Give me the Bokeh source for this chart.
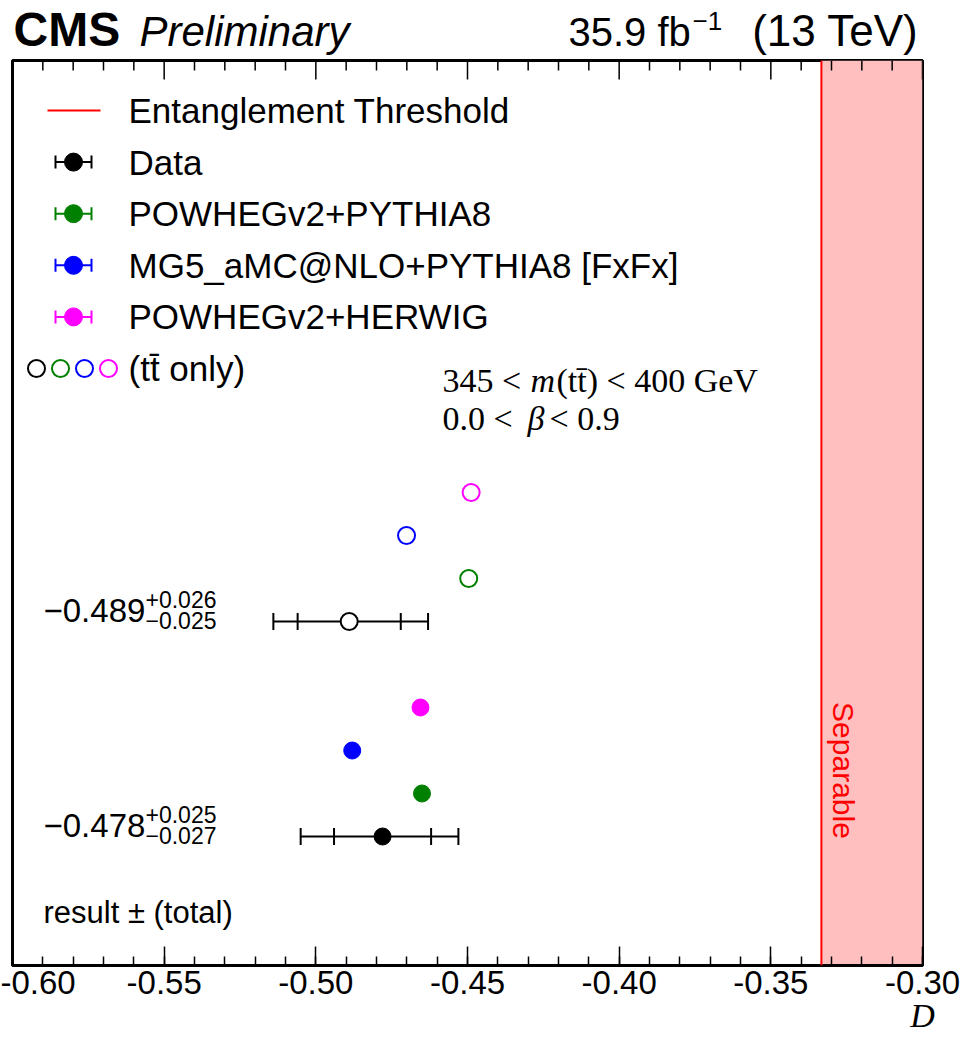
import numpy as np
from bokeh.plotting import figure
from bokeh.layouts import column
from bokeh.models import (Range1d, SingleIntervalTicker, NumeralTickFormatter,
                          Label, BoxAnnotation, Span)
from bokeh.embed import file_html
from bokeh.resources import INLINE

# ---------------- data ----------------
samples = ["Data", "POWHEGv2+PYTHIA8", "MG5_aMC@NLO+PYTHIA8 [FxFx]", "POWHEGv2+HERWIG"]
colors = ["black", "#008000", "#0000ff", "#ff00ff"]
# inclusive (filled markers)
D_incl = [-0.478, -0.465, -0.488, -0.4655]
# tt-bar only (open markers)
D_tt = [-0.489, -0.4496, -0.4701, -0.4488]
# data uncertainties: [inclusive, tt only]
tot_up = [0.025, 0.026]
tot_dn = [0.027, 0.025]
stat_up = [0.016, 0.017]
stat_dn = [0.016, 0.017]
threshold = -1.0 / 3.0
x_lo, x_hi = -0.60, -0.30
x_ticks_interval = 0.05
n_minor = 5

SANS = "Liberation Sans"
SERIF = "Liberation Serif"

W, H = 978, 1045
FL, FR, FT, FB = 12, 922, 60, 965   # frame box in canvas pixels
TOP_PANEL = 3
HEAD_H = FT - TOP_PANEL
row_h = 43.0


def blank_fig(h, y0):
    f = figure(width=W, height=h, x_range=Range1d(FL, FR), y_range=Range1d(y0 + h, y0),
               output_backend="svg", toolbar_location=None, x_axis_location=None,
               y_axis_location=None, min_border_left=FL, min_border_right=W - FR,
               min_border_top=0, min_border_bottom=0)
    f.outline_line_color = None
    f.grid.visible = False
    f.background_fill_color = None
    f.border_fill_color = None
    return f


def tlab(X, Y, text, **kw):
    kw.setdefault("text_color", "black")
    kw.setdefault("text_font", SANS)
    kw.setdefault("text_baseline", "middle")
    return Label(x=X, y=Y, text=text, **kw)


# ---------------- header ----------------
head = blank_fig(HEAD_H, 0)
head.add_layout(tlab(13, 29, "CMS", text_font_size="48px", text_font_style="bold"))
head.add_layout(tlab(139, 31, "Preliminary", text_font_size="42px", text_font_style="italic"))
head.add_layout(tlab(568, 31, "35.9 fb", text_font_size="40px"))
head.add_layout(tlab(692, 20, "\u22121", text_font_size="26px"))
head.add_layout(tlab(918, 30, "(13 TeV)", text_font_size="44px", text_align="right"))

# ---------------- main figure ----------------
probe = figure(width=10, height=10)
has_align = "axis_label_align" in probe.xaxis[0].properties()
BOT_BORDER = (H - FB) if has_align else 44
MAIN_H = TOP_PANEL + (FB - FT) + BOT_BORDER
FOOT_H = H - HEAD_H - MAIN_H

p = figure(width=W, height=MAIN_H, x_range=Range1d(x_lo - 1e-9, x_hi + 1e-9),
           y_range=Range1d(0, (FB - FT) / row_h),
           output_backend="svg", toolbar_location=None, y_axis_location=None,
           min_border_left=FL, min_border_right=W - FR,
           min_border_top=TOP_PANEL, min_border_bottom=BOT_BORDER)
p.extra_x_ranges = {"px": Range1d(FL, FR)}
p.extra_y_ranges = {"py": Range1d(FB, FT)}
p.grid.visible = False
p.outline_line_color = "black"
p.outline_line_width = 3
p.background_fill_color = "white"
p.border_fill_color = "white"

ticker = SingleIntervalTicker(interval=x_ticks_interval, num_minor_ticks=n_minor)
ax = p.xaxis[0]
ax.ticker = ticker
ax.formatter = NumeralTickFormatter(format="0.00")
ax.major_label_text_font = SANS
ax.major_label_text_font_size = "33px"
ax.major_label_text_color = "black"
ax.major_label_standoff = 5
ax.major_tick_in = 19
ax.major_tick_out = 0
ax.minor_tick_in = 9
ax.minor_tick_out = 0
ax.major_tick_line_width = 1.5
ax.minor_tick_line_width = 1.5
ax.axis_line_width = 3
if has_align:
    ax.axis_label = "D"
    ax.axis_label_align = "end"
    ax.axis_label_standoff = 0
    ax.axis_label_text_font = SERIF
    ax.axis_label_text_font_style = "italic"
    ax.axis_label_text_font_size = "34px"
    ax.axis_label_text_color = "black"

# top-edge tick marks (mirror of the x-axis ticks), drawn as vertical dash markers
minor_step = x_ticks_interval / n_minor
tick_x = np.round(np.arange(x_lo, x_hi + minor_step / 2, minor_step), 6)
is_major = np.isclose(np.round(tick_x / x_ticks_interval), tick_x / x_ticks_interval)
for sel, ln in ((is_major, 19.0), (~is_major, 10.0)):
    xs = [float(v) for v in tick_x[sel]]
    p.scatter(x=xs, y=[FT + ln / 2.0] * len(xs), y_range_name="py", marker="dash",
              angle=np.pi / 2, size=ln, line_color="black", line_width=1.5)


def plab(X, Y, text, **kw):
    """label positioned in canvas pixels inside the frame"""
    kw.setdefault("text_color", "black")
    kw.setdefault("text_font", SANS)
    kw.setdefault("text_baseline", "middle")
    return Label(x=X, y=Y, x_range_name="px", y_range_name="py", text=text, **kw)


# separable region
p.add_layout(BoxAnnotation(left=threshold, right=x_hi, fill_color="#ffbfbf", fill_alpha=1.0,
                           line_color=None, level="underlay"))
p.add_layout(Span(location=threshold, dimension="height", line_color="red", line_width=2))
p.add_layout(plab(843, 770, "Separable", angle=-np.pi / 2, text_align="center",
                  text_font_size="30px", text_color="red"))

# ---------------- data points ----------------
n = len(samples)
rows_incl = 3 + np.arange(n)
rows_tt = rows_incl + n + 1
groups = [(D_incl, rows_incl, True), (D_tt, rows_tt, False)]
for gi, (vals, rows, filled) in enumerate(groups):
    d, r = vals[0], rows[0]
    p.segment(x0=[d - tot_dn[gi]], x1=[d + tot_up[gi]], y0=[r], y1=[r],
              line_color="black", line_width=2)
    caps = [d - tot_dn[gi], d + tot_up[gi], d - stat_dn[gi], d + stat_up[gi]]
    p.scatter(x=caps, y=[r] * 4, marker="dash", angle=np.pi / 2, size=17,
              line_color="black", line_width=2)
    for v, rr, c in zip(vals, rows, colors):
        if filled:
            p.scatter(x=[v], y=[rr], marker="circle", size=17, fill_color=c, line_color=c)
        else:
            p.scatter(x=[v], y=[rr], marker="circle", size=17, fill_color="white",
                      line_color=c, line_width=2)
    # value labels
    p.add_layout(Label(x=43, y=r, x_range_name="px", y_offset=11, text_color="black",
                       text="\u2212%.3f" % abs(d), text_baseline="middle",
                       text_font=SANS, text_font_size="33px"))
    p.add_layout(Label(x=145, y=r, x_range_name="px", y_offset=22, text_color="black",
                       text="+%.3f" % tot_up[gi], text_baseline="middle",
                       text_font=SANS, text_font_size="23px"))
    p.add_layout(Label(x=145, y=r, x_range_name="px", y_offset=1, text_color="black",
                       text="\u2212%.3f" % tot_dn[gi], text_baseline="middle",
                       text_font=SANS, text_font_size="23px"))

# ---------------- legend ----------------
leg_y = [110 + 51.6 * i for i in range(6)]
p.segment(x0=[47], x1=[100], y0=[leg_y[0]], y1=[leg_y[0]], x_range_name="px",
          y_range_name="py", line_color="red", line_width=2)
leg_labels = ["Entanglement Threshold"] + samples + ["(tt\u0304 only)"]
for lab, yy in zip(leg_labels, leg_y):
    p.add_layout(plab(128, yy, lab, text_font_size="35px"))
for c, yy in zip(colors, leg_y[1:5]):
    p.segment(x0=[55], x1=[91], y0=[yy], y1=[yy], x_range_name="px", y_range_name="py",
              line_color=c, line_width=2)
    p.scatter(x=[55, 91], y=[yy, yy], x_range_name="px", y_range_name="py", marker="dash",
              angle=np.pi / 2, size=13, line_color=c, line_width=2)
    p.scatter(x=[73], y=[yy], x_range_name="px", y_range_name="py", marker="circle",
              size=18, fill_color=c, line_color=c)
p.scatter(x=[36 + 24 * k for k in range(n)], y=[leg_y[5]] * n, x_range_name="px",
          y_range_name="py", marker="circle", size=17, fill_color=None,
          line_color=colors, line_width=2)

# ---------------- other texts ----------------
p.add_layout(plab(43, 912, "result \u00b1 (total)", text_font_size="31px"))
p.add_layout(plab(442, 380, "345 < ", text_font=SERIF, text_font_size="34px"))
p.add_layout(plab(530, 380, "m", text_font=SERIF, text_font_size="34px",
                  text_font_style="italic"))
p.add_layout(plab(556, 380, "(tt\u0304) < 400 GeV", text_font=SERIF, text_font_size="34px"))
p.add_layout(plab(442, 418, "0.0 < ", text_font=SERIF, text_font_size="34px"))
p.add_layout(plab(527, 418, "\u03b2", text_font=SERIF, text_font_size="34px",
                  text_font_style="italic"))
p.add_layout(plab(549, 418, " < 0.9", text_font=SERIF, text_font_size="34px"))

children = [head, p]
if not has_align:
    # footer carrying the x-axis title
    y_foot = HEAD_H + MAIN_H
    foot = blank_fig(FOOT_H, y_foot)
    foot.add_layout(tlab(906, y_foot + FOOT_H / 2, "D", text_font=SERIF,
                         text_font_size="32px", text_font_style="italic",
                         text_align="center"))
    children.append(foot)

layout = column(*children, spacing=0)
open("out.html", "w").write(file_html(layout, INLINE))
